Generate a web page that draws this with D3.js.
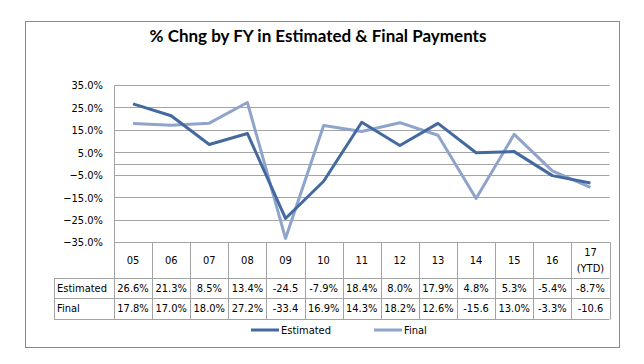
<!DOCTYPE html>
<html><head><meta charset="utf-8">
<script src="https://cdn.jsdelivr.net/npm/d3@7"></script>
<style>
html,body{margin:0;padding:0;background:#fff;}
.t{font-family:'DejaVu Sans Condensed','DejaVu Sans',sans-serif;font-stretch:condensed;font-size:11px;fill:#000;}
</style></head>
<body>
<svg id="c" width="644" height="364"></svg>
<script>
const categories = ["05","06","07","08","09","10","11","12","13","14","15","16","17"];
const subLabels = ["","","","","","","","","","","","","(YTD)"];
const estimated = [26.6,21.3,8.5,13.4,-24.5,-7.9,18.4,8.0,17.9,4.8,5.3,-5.4,-8.7];
const finalVals = [17.8,17.0,18.0,27.2,-33.4,16.9,14.3,18.2,12.6,-15.6,13.0,-3.3,-10.6];
const estimatedText = ["26.6%","21.3%","8.5%","13.4%","-24.5","-7.9%","18.4%","8.0%","17.9%","4.8%","5.3%","-5.4%","-8.7%"];
const finalText = ["17.8%","17.0%","18.0%","27.2%","-33.4","16.9%","14.3%","18.2%","12.6%","-15.6","13.0%","-3.3%","-10.6"];
const yTicks = [35,25,15,5,-5,-15,-25,-35];
const seriesNames = ["Estimated","Final"];
const seriesColors = ["#44699f","#8fa4cb"];
const title = "% Chng by FY in Estimated & Final Payments";

const svg = d3.select("#c");
const box = {x0:25.5, y0:21.5, x1:619.5, y1:347.5};
svg.append("rect").attr("x",box.x0).attr("y",box.y0).attr("width",box.x1-box.x0).attr("height",box.y1-box.y0)
  .attr("fill","#fff").attr("stroke","#8a8a8a");

svg.append("text").attr("x",318).attr("y",42).attr("text-anchor","middle")
  .style("font-family","Lato, 'Open Sans', sans-serif").style("font-weight","bold").style("font-size","17px")
  .text(title);

const pl = 114, pr = 609.5, pt = 85, pb = 242;
const x = d3.scaleBand().domain(categories).range([pl,pr]);
const y = d3.scaleLinear().domain([-35,35]).range([pb,pt]);

// gridlines
const g = svg.append("g");
g.selectAll("line.grid").data(yTicks).join("line")
  .attr("x1",pl).attr("x2",pr).attr("y1",d=>Math.round(y(d))+0.5).attr("y2",d=>Math.round(y(d))+0.5)
  .attr("stroke","#a3a3a3").attr("stroke-width",1);
// zero axis
g.append("line").attr("x1",pl).attr("x2",pr).attr("y1",Math.round(y(0))+0.5).attr("y2",Math.round(y(0))+0.5)
  .attr("stroke","#a3a3a3");
// y axis line
g.append("line").attr("x1",pl+0.5).attr("x2",pl+0.5).attr("y1",pt).attr("y2",pb).attr("stroke","#a3a3a3");

// y axis labels
const yAxis = d3.axisLeft(y).tickValues(yTicks).tickSize(0).tickPadding(0).tickFormat(d=>d3.format(".1f")(d)+"%");
const ya = svg.append("g").attr("transform",`translate(${pl-11},0)`).call(yAxis);
ya.select(".domain").remove();
ya.selectAll("text").attr("class","t").attr("fill","#000").style("font-family",null).style("font-size",null).attr("dy","0.35em");
ya.attr("font-family",null).attr("font-size",null);

// lines
const series = [estimated, finalVals];
const lineGen = d3.line().x((d,i)=>x(categories[i])+x.bandwidth()/2).y(d=>y(d));
[1,0].forEach(si=>{
  svg.append("path").datum(series[si]).attr("d",lineGen).attr("fill","none")
    .attr("stroke",seriesColors[si]).attr("stroke-width",3).attr("stroke-linejoin","round");
});

// data table
const tcol = "#a3a3a3";
const tl = 54;
const tg = svg.append("g");
tg.append("line").attr("x1",pl).attr("x2",pr).attr("y1",pb+0.5).attr("y2",pb+0.5).attr("stroke",tcol);
[278,298,319].forEach(yy=>{
  tg.append("line").attr("x1",tl).attr("x2",pr).attr("y1",yy+0.5).attr("y2",yy+0.5).attr("stroke",tcol);
});
const bounds = categories.map(c=>x(c)).concat([pr]);
bounds.forEach(bx=>{
  tg.append("line").attr("x1",Math.round(bx)+0.5).attr("x2",Math.round(bx)+0.5).attr("y1",pb).attr("y2",319.5).attr("stroke",tcol);
});
tg.append("line").attr("x1",tl+0.5).attr("x2",tl+0.5).attr("y1",278).attr("y2",319.5).attr("stroke",tcol);

categories.forEach((c,i)=>{
  const cx = x(c)+x.bandwidth()/2;
  if(subLabels[i]){
    tg.append("text").attr("class","t").attr("x",cx).attr("y",256).attr("text-anchor","middle").text(c);
    tg.append("text").attr("class","t").attr("x",cx).attr("y",272).attr("text-anchor","middle").text(subLabels[i]);
  } else {
    tg.append("text").attr("class","t").attr("x",cx).attr("y",264).attr("text-anchor","middle").text(c);
  }
});
const rowTexts = [estimatedText, finalText];
rowTexts.forEach((arr,ri)=>{
  const yy = 292 + ri*20;
  tg.append("text").attr("class","t").attr("x",57).attr("y",yy).text(seriesNames[ri]);
  arr.forEach((s,i)=>{
    tg.append("text").attr("class","t").attr("x",x(categories[i])+x.bandwidth()/2).attr("y",yy).attr("text-anchor","middle").text(s);
  });
});

// legend
const lg = svg.append("g");
const legX = [251, 374];
seriesNames.forEach((n,i)=>{
  lg.append("line").attr("x1",legX[i]).attr("x2",legX[i]+28).attr("y1",330).attr("y2",330)
    .attr("stroke",seriesColors[i]).attr("stroke-width",3);
  lg.append("text").attr("class","t").attr("x",legX[i]+30).attr("y",334).text(n);
});
</script>
</body></html>
